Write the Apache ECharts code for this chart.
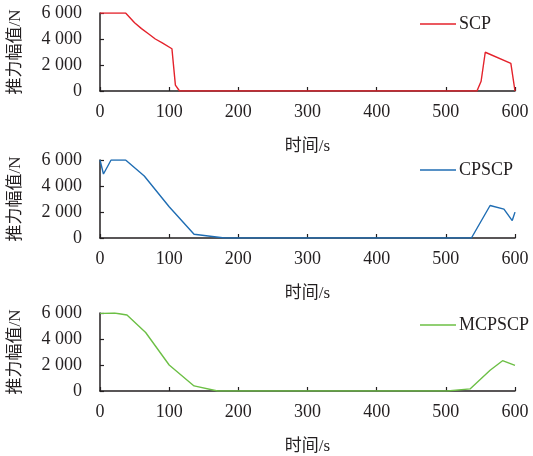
<!DOCTYPE html>
<html>
<head>
<meta charset="utf-8">
<script src="https://cdn.jsdelivr.net/npm/echarts@6/dist/echarts.min.js"></script>
<style>
  html, body { margin: 0; padding: 0; background: #fff; }
  #chart { width: 533px; height: 456px; }
</style>
</head>
<body>
<div id="chart"></div>
<script>
// time (s) / thrust amplitude (N)
const scpT = [0, 37, 50, 60, 70, 80, 90, 104, 109, 115, 545, 551, 557, 594, 600];
const scpV = [6000, 6000, 5250, 4800, 4400, 4000, 3700, 3250, 450, 0, 0, 750, 2980, 2120, 0];

const cpscpT = [0, 5, 16, 37, 64, 100, 136, 180, 537, 564, 584, 596, 600];
const cpscpV = [6000, 4920, 6000, 6000, 4770, 2400, 290, 0, 0, 2500, 2220, 1340, 1990];

const mcpscpT = [0, 21, 39, 66, 100, 136, 170, 502, 535, 564, 582, 600];
const mcpscpV = [5970, 6000, 5850, 4500, 2000, 390, 0, 0, 160, 1600, 2330, 1970];

const names = ['SCP', 'CPSCP', 'MCPSCP'];
const colors = ['#e4222b', '#1f6db3', '#6cbf45'];
const xTicks = [0, 100, 200, 300, 400, 500, 600];
const yTicks = [0, 2000, 4000, 6000];

const serif = "'Liberation Serif', 'Times New Roman', 'Noto Sans CJK SC', serif";
const ink = '#231f20';

const zip = (t, v) => t.map((x, i) => [x, v[i]]);
const seriesData = [zip(scpT, scpV), zip(cpscpT, cpscpV), zip(mcpscpT, mcpscpV)];

// pixel layout of the three stacked panels
const panels = [
  {top: 13, height: 78, legendTop: 15},
  {top: 160, height: 78, legendTop: 161},
  {top: 313, height: 78, legendTop: 316},
];

const fmtThousands = v => v === 0 ? '0' : String(v).replace(/\B(?=(\d{3})+(?!\d))/g, ' ');

const chart = echarts.init(document.getElementById('chart'));
chart.setOption({
  animation: false,
  backgroundColor: '#fff',
  textStyle: {fontFamily: serif, color: ink},
  grid: panels.map(p => ({
    left: 100, right: 18, top: p.top, height: p.height,
    containLabel: false, outerBoundsMode: 'none',
  })),
  legend: panels.map((p, i) => ({
    data: [names[i]],
    left: 420,
    top: p.legendTop,
    icon: 'rect',
    itemWidth: 36,
    itemHeight: 1.5,
    itemGap: 0,
    padding: 0,
    textStyle: {fontFamily: serif, fontSize: 18, color: ink, padding: [0, 0, 0, -2]},
  })),
  xAxis: panels.map((p, i) => ({
    type: 'value',
    gridIndex: i,
    min: xTicks[0],
    max: xTicks[xTicks.length - 1],
    interval: 100,
    name: '时间/s',
    nameLocation: 'middle',
    nameGap: 47,
    nameTextStyle: {fontFamily: serif, fontSize: 17, color: ink},
    axisLine: {lineStyle: {color: ink, width: 1.5}},
    axisTick: {inside: true, length: 4, lineStyle: {color: ink, width: 1.2}},
    axisLabel: {fontFamily: serif, fontSize: 18, color: ink, margin: 12},
    splitLine: {show: false},
  })),
  yAxis: panels.map((p, i) => ({
    type: 'value',
    gridIndex: i,
    min: yTicks[0],
    max: yTicks[yTicks.length - 1],
    interval: 2000,
    name: '推力幅值/N',
    nameLocation: 'middle',
    nameGap: 76,
    nameTextStyle: {fontFamily: serif, fontSize: 17, color: ink},
    axisLine: {show: true, lineStyle: {color: ink, width: 1.5}},
    axisTick: {show: true, inside: true, length: 4, lineStyle: {color: ink, width: 1.2}},
    axisLabel: {fontFamily: serif, fontSize: 18, color: ink, margin: 18, formatter: fmtThousands},
    splitLine: {show: false},
  })),
  series: seriesData.map((d, i) => ({
    name: names[i],
    type: 'line',
    xAxisIndex: i,
    yAxisIndex: i,
    data: d,
    symbol: 'none',
    color: colors[i],
    lineStyle: {width: 1.4, color: colors[i]},
    z: 5,
  })),
});
</script>
</body>
</html>
